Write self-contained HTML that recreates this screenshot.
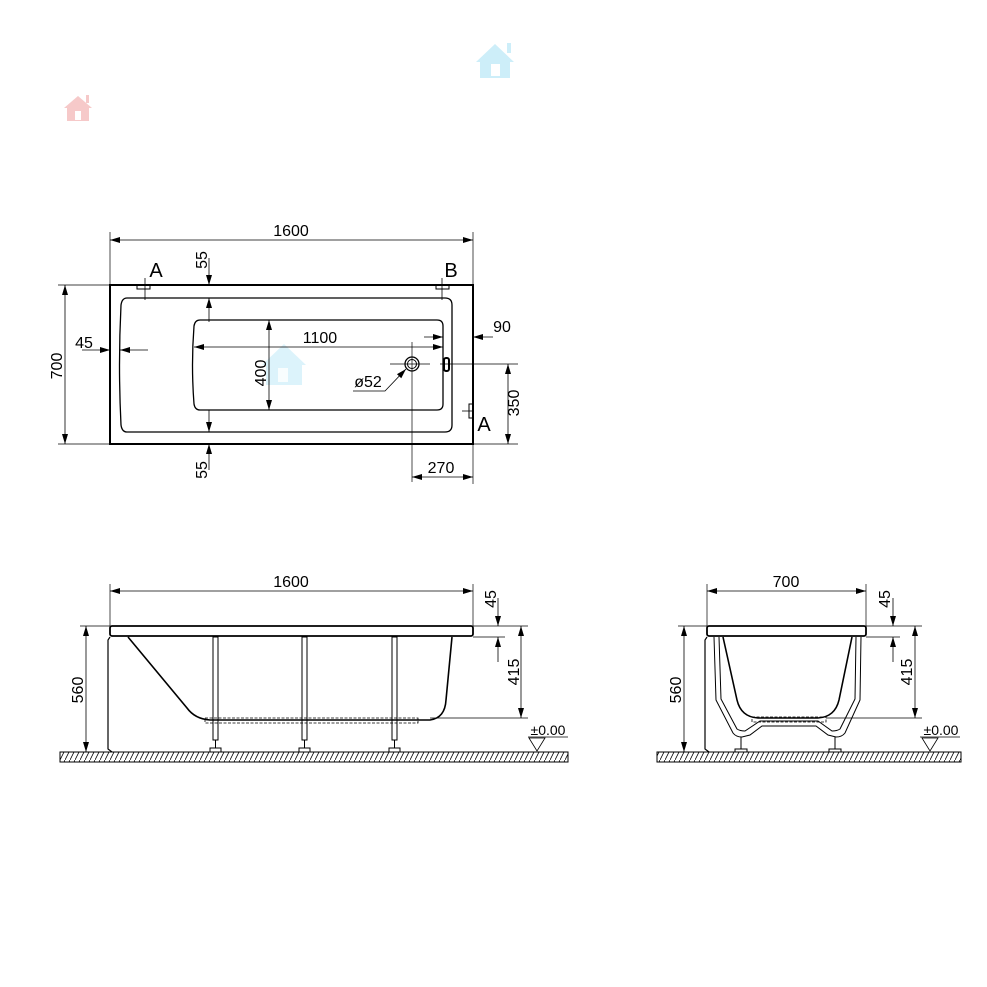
<!DOCTYPE html>
<html><head><meta charset="utf-8"><style>
html,body{margin:0;padding:0;background:#fff;}
svg{display:block;font-family:"Liberation Sans",sans-serif;}
</style></head><body>
<svg width="987" height="987" viewBox="0 0 987 987" xmlns="http://www.w3.org/2000/svg">
<defs>
<marker id="a" viewBox="0 0 10 6" refX="10" refY="3" markerWidth="10" markerHeight="6" orient="auto-start-reverse" markerUnits="userSpaceOnUse"><path d="M0,0 L10,3 L0,6 z" fill="#000"/></marker>
<pattern id="h" width="5" height="10" patternUnits="userSpaceOnUse"><path d="M0,10 L5,0" stroke="#000" stroke-width="0.8"/></pattern>
</defs>
<!-- icons -->
<g fill="#f6c9c9"><path d="M64,108 L78,96 L92,108 L89,108 L89,121 L67,121 L67,108 Z"/><rect x="86" y="95" width="3" height="8"/></g>
<rect x="75" y="111" width="6" height="9" fill="#fff"/>
<g fill="#cdeef9"><path d="M476,62 L495,44 L514,62 L510,62 L510,78 L480,78 L480,62 Z"/><rect x="507" y="43" width="4" height="10"/></g>
<rect x="491" y="64" width="9" height="12" fill="#fff"/>
<g fill="#cdeef9" opacity="0.7"><path d="M262,365 L284,344 L306,365 L302,365 L302,385 L266,385 L266,365 Z"/></g>
<rect x="278" y="368" width="10" height="14" fill="#fff" opacity="0.8"/>

<g stroke="#000" fill="none" stroke-width="1">
<!-- TOP VIEW -->
<rect x="110" y="285" width="363" height="159" stroke-width="2"/>
<path d="M127,298 L445,298 Q452,298 452,305 L452,425 Q452,432 445,432 L127,432 Q122,432 121,425 Q118,365 121,305 Q122,298 127,298 Z" stroke-width="1.3"/>
<path d="M200,320 L437,320 Q443,320 443,326 L443,404 Q443,410 437,410 L200,410 Q195,410 194,404 Q191,365 194,326 Q195,320 200,320 Z" stroke-width="1.3"/>
<rect x="137" y="285" width="13" height="4" stroke-width="1"/>
<rect x="436" y="285" width="13" height="4" stroke-width="1"/>
<line x1="145" y1="278" x2="145" y2="300" stroke-width="0.8"/>
<line x1="442" y1="278" x2="442" y2="300" stroke-width="0.8"/>
<rect x="444" y="358" width="5" height="13" rx="2" stroke-width="2"/>
<rect x="469" y="404" width="4" height="14" stroke-width="1"/>
<line x1="462" y1="411" x2="473" y2="411" stroke-width="0.8"/>
<circle cx="412" cy="364" r="7" stroke-width="1.3"/><circle cx="412" cy="364" r="4.5"/>
<!-- centerlines -->
<line x1="390" y1="364" x2="430" y2="364" stroke-width="0.7"/>
<line x1="440" y1="364" x2="518" y2="364" stroke-width="0.7"/>
<line x1="412" y1="342" x2="412" y2="482" stroke-width="0.7"/>
<!-- 1600 -->
<line x1="110" y1="232" x2="110" y2="285" stroke-width="0.7"/>
<line x1="473" y1="232" x2="473" y2="285" stroke-width="0.7"/>
<line x1="110" y1="240" x2="473" y2="240" stroke-width="0.8" marker-start="url(#a)" marker-end="url(#a)"/>
<!-- 700 -->
<line x1="58" y1="285" x2="110" y2="285" stroke-width="0.7"/>
<line x1="58" y1="444" x2="110" y2="444" stroke-width="0.7"/>
<line x1="65" y1="285" x2="65" y2="444" stroke-width="0.8" marker-start="url(#a)" marker-end="url(#a)"/>
<!-- 55 top -->
<line x1="209" y1="258" x2="209" y2="285" stroke-width="0.8" marker-end="url(#a)"/>
<line x1="209" y1="322" x2="209" y2="298" stroke-width="0.8" marker-end="url(#a)"/>
<!-- 55 bottom -->
<line x1="209" y1="410" x2="209" y2="432" stroke-width="0.8" marker-end="url(#a)"/>
<line x1="209" y1="470" x2="209" y2="444" stroke-width="0.8" marker-end="url(#a)"/>
<!-- 45 -->
<line x1="82" y1="350" x2="110" y2="350" stroke-width="0.8" marker-end="url(#a)"/>
<line x1="148" y1="350" x2="120" y2="350" stroke-width="0.8" marker-end="url(#a)"/>
<!-- 1100 -->
<line x1="194" y1="347" x2="443" y2="347" stroke-width="0.8" marker-start="url(#a)" marker-end="url(#a)"/>
<!-- 400 -->
<line x1="269" y1="320" x2="269" y2="410" stroke-width="0.8" marker-start="url(#a)" marker-end="url(#a)"/>
<!-- 90 -->
<line x1="424" y1="337" x2="443" y2="337" stroke-width="0.8" marker-end="url(#a)"/>
<line x1="493" y1="337" x2="473" y2="337" stroke-width="0.8" marker-end="url(#a)"/>
<!-- 350 -->
<line x1="473" y1="444" x2="518" y2="444" stroke-width="0.7"/>
<line x1="508" y1="364" x2="508" y2="444" stroke-width="0.8" marker-start="url(#a)" marker-end="url(#a)"/>
<!-- 270 -->
<line x1="473" y1="444" x2="473" y2="484" stroke-width="0.7"/>
<line x1="412" y1="477" x2="473" y2="477" stroke-width="0.8" marker-start="url(#a)" marker-end="url(#a)"/>
<!-- ø52 leader -->
<polyline points="353,391 385,391 406,369" stroke-width="0.8" marker-end="url(#a)"/>

<!-- SIDE VIEW -->
<rect x="110" y="626" width="363" height="10" rx="2" stroke-width="1.8"/>
<path d="M110,637 L108,640 L108,749 L112,752" stroke-width="1.2"/>
<path d="M128,637 L187,708 Q195,719 210,720 L430,720 Q445,718 446,700 L452,637" stroke-width="1.6"/>
<rect x="205" y="718" width="213" height="5" stroke-width="0.8" stroke-dasharray="3 1.5"/>
<g stroke-width="1">
<rect x="213" y="637" width="5" height="103"/><line x1="215.5" y1="740" x2="215.5" y2="748"/><rect x="210" y="748" width="11" height="4"/>
<rect x="302" y="637" width="5" height="103"/><line x1="304.5" y1="740" x2="304.5" y2="748"/><rect x="299" y="748" width="11" height="4"/>
<rect x="392" y="637" width="5" height="103"/><line x1="394.5" y1="740" x2="394.5" y2="748"/><rect x="389" y="748" width="11" height="4"/>
</g>
<rect x="60" y="752" width="508" height="10" fill="url(#h)" stroke-width="1"/>
<line x1="110" y1="584" x2="110" y2="626" stroke-width="0.7"/>
<line x1="473" y1="584" x2="473" y2="626" stroke-width="0.7"/>
<line x1="110" y1="591" x2="473" y2="591" stroke-width="0.8" marker-start="url(#a)" marker-end="url(#a)"/>
<line x1="80" y1="626" x2="110" y2="626" stroke-width="0.7"/>
<line x1="86" y1="626" x2="86" y2="752" stroke-width="0.8" marker-start="url(#a)" marker-end="url(#a)"/>
<line x1="473" y1="626" x2="528" y2="626" stroke-width="0.7"/>
<line x1="473" y1="637" x2="505" y2="637" stroke-width="0.7"/>
<line x1="498" y1="598" x2="498" y2="626" stroke-width="0.8" marker-end="url(#a)"/>
<line x1="498" y1="662" x2="498" y2="637" stroke-width="0.8" marker-end="url(#a)"/>
<line x1="430" y1="718" x2="528" y2="718" stroke-width="0.7"/>
<line x1="521" y1="626" x2="521" y2="718" stroke-width="0.8" marker-start="url(#a)" marker-end="url(#a)"/>
<line x1="528" y1="737" x2="568" y2="737" stroke-width="0.8"/>
<path d="M529,738 L545,738 L537,751 Z" stroke-width="0.8"/>

<!-- END VIEW -->
<rect x="707" y="626" width="159" height="10" rx="2" stroke-width="1.8"/>
<path d="M707,637 L705,640 L705,749 L709,752" stroke-width="1.2"/>
<path d="M723,637 L737,700 Q741,717 758,718 L818,718 Q835,717 839,700 L852,637" stroke-width="1.6"/>
<rect x="752" y="717" width="74" height="5" stroke-width="0.8" stroke-dasharray="3 1.5"/>
<path d="M714,637 L716,700 L733,733 Q736,737 742,737 L750,735 L762,726 L816,726 L828,735 L836,737 Q842,737 845,733 L860,700 L861,637" stroke-width="1"/>
<path d="M719,637 L721,699 L737,729 Q740,731 745,731 L760,721 L818,721 L832,731 Q837,731 840,729 L855,699 L856,637" stroke-width="1"/>
<line x1="741" y1="737" x2="741" y2="749"/><rect x="735" y="749" width="12" height="3"/>
<line x1="835" y1="737" x2="835" y2="749"/><rect x="829" y="749" width="12" height="3"/>
<rect x="657" y="752" width="304" height="10" fill="url(#h)" stroke-width="1"/>
<line x1="707" y1="584" x2="707" y2="626" stroke-width="0.7"/>
<line x1="866" y1="584" x2="866" y2="626" stroke-width="0.7"/>
<line x1="707" y1="591" x2="866" y2="591" stroke-width="0.8" marker-start="url(#a)" marker-end="url(#a)"/>
<line x1="678" y1="626" x2="707" y2="626" stroke-width="0.7"/>
<line x1="684" y1="626" x2="684" y2="752" stroke-width="0.8" marker-start="url(#a)" marker-end="url(#a)"/>
<line x1="866" y1="626" x2="922" y2="626" stroke-width="0.7"/>
<line x1="866" y1="637" x2="900" y2="637" stroke-width="0.7"/>
<line x1="893" y1="598" x2="893" y2="626" stroke-width="0.8" marker-end="url(#a)"/>
<line x1="893" y1="662" x2="893" y2="637" stroke-width="0.8" marker-end="url(#a)"/>
<line x1="826" y1="718" x2="922" y2="718" stroke-width="0.7"/>
<line x1="915" y1="626" x2="915" y2="718" stroke-width="0.8" marker-start="url(#a)" marker-end="url(#a)"/>
<line x1="920" y1="737" x2="960" y2="737" stroke-width="0.8"/>
<path d="M922,738 L938,738 L930,751 Z" stroke-width="0.8"/>
</g>

<g font-size="16" fill="#000" text-anchor="middle">
<text x="291" y="236">1600</text>
<text x="156" y="277" font-size="20">A</text>
<text x="451" y="277" font-size="20">B</text>
<text x="484" y="431" font-size="20">A</text>
<text x="84" y="348">45</text>
<text x="320" y="343">1100</text>
<text x="502" y="332">90</text>
<text x="368" y="387">ø52</text>
<text x="441" y="473">270</text>
<text transform="translate(62,366) rotate(-90)">700</text>
<text transform="translate(207,260) rotate(-90)">55</text>
<text transform="translate(207,470) rotate(-90)">55</text>
<text transform="translate(266,373) rotate(-90)">400</text>
<text transform="translate(519,403) rotate(-90)">350</text>
<text x="291" y="587">1600</text>
<text transform="translate(83,690) rotate(-90)">560</text>
<text transform="translate(496,599) rotate(-90)">45</text>
<text transform="translate(519,672) rotate(-90)">415</text>
<text x="548" y="735" font-size="14">±0.00</text>
<text x="786" y="587">700</text>
<text transform="translate(681,690) rotate(-90)">560</text>
<text transform="translate(890,599) rotate(-90)">45</text>
<text transform="translate(912,672) rotate(-90)">415</text>
<text x="941" y="735" font-size="14">±0.00</text>
</g>
</svg>
</body></html>
